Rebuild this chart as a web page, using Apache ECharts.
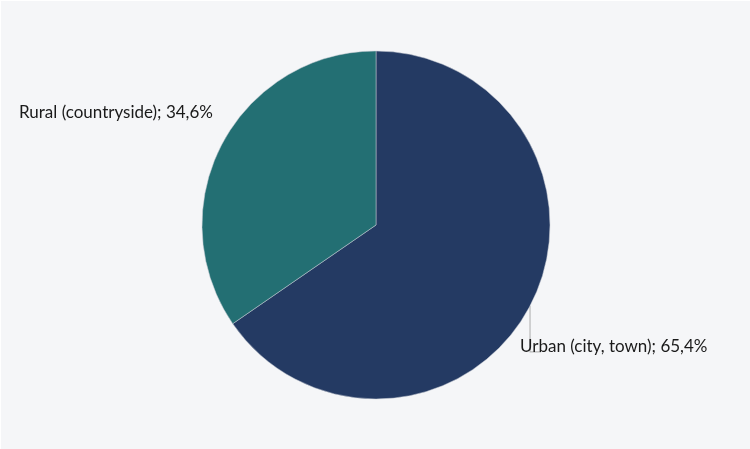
<!DOCTYPE html>
<html>
<head>
<meta charset="utf-8">
<script src="https://cdn.jsdelivr.net/npm/echarts@6/dist/echarts.min.js"></script>
<style>
html,body{margin:0;padding:0;background:#ffffff;}
#wrap{position:absolute;left:1px;top:1px;width:749px;height:448px;background:#f5f6f8;}
#chart{width:749px;height:448px;}
</style>
</head>
<body>
<div id="wrap"><div id="chart"></div></div>
<script>
const categories = ['Urban (city, town)', 'Rural (countryside)'];
const values = [65.4, 34.6];
const colors = ['#243a63', '#236f73'];

const chart = echarts.init(document.getElementById('chart'), null, {renderer: 'canvas'});
const data = categories.map((c, i) => ({
  name: c,
  value: values[i],
  itemStyle: {color: colors[i]},
  labelLine: {show: i === 0}
}));

chart.setOption({
  backgroundColor: 'transparent',
  animation: false,
  series: [{
    type: 'pie',
    center: [375, 224],
    radius: [0, 174],
    startAngle: 90,
    clockwise: true,
    data: data,
    itemStyle: {borderColor: '#c8ccd4', borderWidth: 0.5},
    label: {
      show: true,
      position: 'outside',
      overflow: 'none',
      width: 400,
      fontFamily: 'Lato, "Open Sans", sans-serif',
      fontSize: 17,
      color: '#1a1a1a',
      formatter: p => p.name + '; ' + String(p.value).replace('.', ',') + '%'
    },
    labelLine: {show: true, lineStyle: {color: '#b8b8b8', width: 1.2}},
    labelLayout: function (params) {
      const p = params.labelLinePoints;
      if (!p) return {};
      const ax = p[0][0], ay = p[0][1];
      if (params.dataIndex === 0) {
        return {
          x: ax - 10, y: ay + 41, align: 'left', verticalAlign: 'middle',
          labelLinePoints: [[ax, ay], [ax, ay + 46], [ax + 11, ay + 46]]
        };
      }
      return {x: ax - 9, y: ay - 32, align: 'right', verticalAlign: 'middle'};
    }
  }]
});
</script>
</body>
</html>
